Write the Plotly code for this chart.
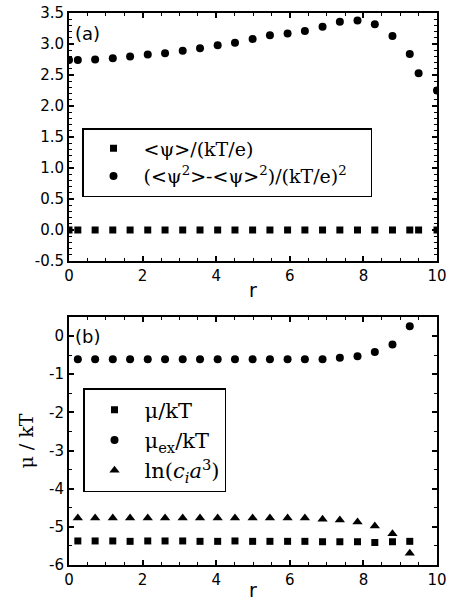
import plotly.graph_objects as go

# ---- data (panel a) ----
r_a = [0.0, 0.24, 0.71, 1.19, 1.66, 2.14, 2.61, 3.09, 3.56, 4.04, 4.51, 4.99,
       5.46, 5.94, 6.41, 6.89, 7.36, 7.84, 8.31, 8.79, 9.26, 9.50, 10.0]
psi_mean = [0.0] * 23
psi_var = [2.74, 2.74, 2.75, 2.77, 2.80, 2.83, 2.85, 2.89, 2.93, 2.98, 3.02, 3.08,
           3.14, 3.17, 3.21, 3.28, 3.36, 3.38, 3.32, 3.13, 2.84, 2.53, 2.25]

# ---- data (panel b) ----
r_b = [0.24, 0.71, 1.19, 1.66, 2.14, 2.61, 3.09, 3.56, 4.04, 4.51, 4.99,
       5.46, 5.94, 6.41, 6.89, 7.36, 7.84, 8.31, 8.79, 9.26]
mu = [-5.37, -5.37, -5.37, -5.38, -5.37, -5.37, -5.37, -5.38, -5.38, -5.37, -5.38,
      -5.38, -5.38, -5.38, -5.39, -5.39, -5.39, -5.41, -5.39, -5.38]
mu_ex = [-0.61, -0.61, -0.61, -0.61, -0.61, -0.61, -0.61, -0.61, -0.61, -0.61, -0.61,
         -0.61, -0.61, -0.61, -0.61, -0.57, -0.53, -0.42, -0.22, 0.26]
ln_ca = [-4.77, -4.77, -4.77, -4.77, -4.77, -4.77, -4.77, -4.77, -4.77, -4.77, -4.77,
         -4.77, -4.77, -4.77, -4.80, -4.82, -4.87, -4.98, -5.18, -5.69]

# ---- tick labels ----
x_ticks = [0, 2, 4, 6, 8, 10]
x_ticklabels = ["0", "2", "4", "6", "8", "10"]
ya_ticks = [-0.5, 0.0, 0.5, 1.0, 1.5, 2.0, 2.5, 3.0, 3.5]
ya_ticklabels = ["-0.5", "0.0", "0.5", "1.0", "1.5", "2.0", "2.5", "3.0", "3.5"]
yb_ticks = [-6, -5, -4, -3, -2, -1, 0]
yb_ticklabels = ["-6", "-5", "-4", "-3", "-2", "-1", "0"]

SANS = "DejaVu Sans, Arial, sans-serif"
SERIF = "DejaVu Serif, Liberation Serif, serif"

fig = go.Figure()
fig.add_trace(go.Scatter(x=r_a, y=psi_mean, mode="markers", xaxis="x", yaxis="y",
                         marker=dict(symbol="square", size=7, color="black"),
                         name="&lt;ψ&gt;/(kT/e)", legend="legend"))
fig.add_trace(go.Scatter(x=r_a, y=psi_var, mode="markers", xaxis="x", yaxis="y",
                         marker=dict(symbol="circle", size=8, color="black"),
                         name="(&lt;ψ<sup>2</sup>&gt;-&lt;ψ&gt;<sup>2</sup>)/(kT/e)<sup>2</sup>&nbsp;&nbsp;&nbsp;",
                         legend="legend"))
fig.add_trace(go.Scatter(x=r_b, y=mu, mode="markers", xaxis="x2", yaxis="y2",
                         marker=dict(symbol="square", size=7, color="black"),
                         name="μ/kT", legend="legend2"))
fig.add_trace(go.Scatter(x=r_b, y=mu_ex, mode="markers", xaxis="x2", yaxis="y2",
                         marker=dict(symbol="circle", size=8, color="black"),
                         name="μ<sub>ex</sub>/kT", legend="legend2"))
fig.add_trace(go.Scatter(x=r_b, y=ln_ca, mode="markers", xaxis="x2", yaxis="y2",
                         marker=dict(symbol="triangle-up", size=9, color="black"),
                         name="ln(<i>c<sub>i</sub>a</i><sup>3</sup>)", legend="legend2"))

W, H = 449, 601
xd = [69 / W, 437 / W]
minor_style = dict(ticks="inside", ticklen=3, tickwidth=1.2, tickcolor="black")
common_x = dict(range=[0, 10], tickmode="array", tickvals=x_ticks, ticktext=x_ticklabels,
                ticks="inside", ticklen=5, tickwidth=1.5, automargin=False,
                tickcolor="black", showline=True, linewidth=2, linecolor="black",
                mirror="ticks", showgrid=False, zeroline=False,
                tickfont=dict(family=SANS, size=15, color="black"),
                minor=dict(dtick=0.5, tick0=0, **minor_style),
                title=dict(text="r", font=dict(family=SANS, size=19, color="black"), standoff=0))
common_y = dict(tickmode="array", ticks="inside", ticklen=5, tickwidth=1.5, tickcolor="black",
                showline=True, linewidth=2, linecolor="black", mirror="ticks",
                showgrid=False, zeroline=False, automargin=False,
                tickfont=dict(family=SANS, size=15, color="black"))

fig.update_layout(
    template="none",
    width=W, height=H, margin=dict(l=0, r=0, t=0, b=0, autoexpand=False),
    paper_bgcolor="white", plot_bgcolor="white", showlegend=True,
    xaxis=dict(domain=xd, anchor="y", **common_x),
    yaxis=dict(domain=[1 - 261 / H, 1 - 13 / H], anchor="x", range=[-0.5, 3.5],
               tickvals=ya_ticks, ticktext=ya_ticklabels,
               minor=dict(dtick=0.1, tick0=0, **minor_style), **common_y),
    xaxis2=dict(domain=xd, anchor="y2", **common_x),
    yaxis2=dict(domain=[1 - 565 / H, 1 - 317 / H], anchor="x2", range=[-6, 0.5],
                tickvals=yb_ticks, ticktext=yb_ticklabels,
                minor=dict(dtick=0.5, tick0=0, **minor_style),
                title=dict(text="μ / kT", font=dict(family=SERIF, size=19, color="black"), standoff=10),
                **common_y),
    legend=dict(x=82 / W, y=1 - 128 / H, xanchor="left", yanchor="top",
                bordercolor="black", borderwidth=1.5, bgcolor="white", itemwidth=50,
                font=dict(family=SERIF, size=19, color="black"), tracegroupgap=0),
    legend2=dict(x=83 / W, y=1 - 388 / H, xanchor="left", yanchor="top",
                 bordercolor="black", borderwidth=1.5, bgcolor="white", itemwidth=50,
                 font=dict(family=SERIF, size=21, color="black"), tracegroupgap=0),
    annotations=[
        dict(text="(a)", x=0.12, y=3.17, xref="x", yref="y", xanchor="left", yanchor="middle",
             showarrow=False, font=dict(family=SANS, size=18, color="black")),
        dict(text="(b)", x=0.12, y=0.0, xref="x2", yref="y2", xanchor="left", yanchor="middle",
             showarrow=False, font=dict(family=SANS, size=18, color="black")),
    ],
)

fig.write_html("out.html", config={"displayModeBar": False},
               post_script="document.body.style.margin='0';document.body.style.overflow='hidden';")
